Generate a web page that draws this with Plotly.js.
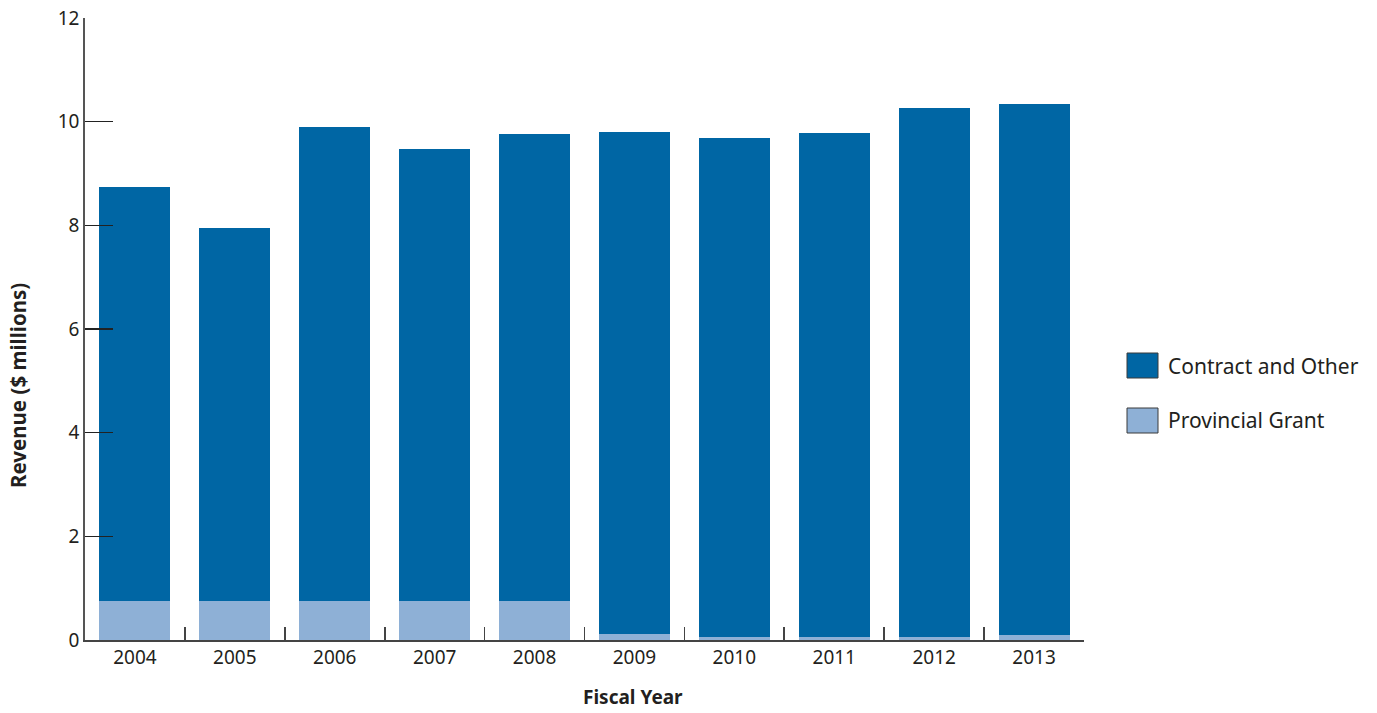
<!DOCTYPE html>
<html><head><meta charset="utf-8">
<script src="https://cdn.plot.ly/plotly-3.0.1.min.js"></script>
<style>html,body{margin:0;padding:0;background:#fff;}#chart{width:1377px;height:713px;}</style>
</head><body><div id="chart"></div>
<script>
const years = ["2004","2005","2006","2007","2008","2009","2010","2011","2012","2013"];
const provincialGrant = [0.76,0.76,0.76,0.76,0.76,0.12,0.06,0.06,0.06,0.10];
const contractOther = [7.98,7.19,9.14,8.71,9.00,9.68,9.63,9.72,10.20,10.24];
const seriesNames = ["Contract and Other","Provincial Grant"];
const seriesColors = ["#0066a4","#8eb0d6"];

const font = "'Noto Sans', 'Open Sans', sans-serif";
const traces = [
  {type:"bar", name:seriesNames[1], x:years, y:provincialGrant,
   marker:{color:seriesColors[1], line:{width:0}}},
  {type:"bar", name:seriesNames[0], x:years, y:contractOther,
   marker:{color:seriesColors[0], line:{width:0}}}
];

// manual legend (large swatches like the reference)
const legendX0 = 1127, legendW = 31, legendH = 25, legendTop = [353, 408];
const shapes = [], annotations = [];
seriesNames.forEach((n,i)=>{
  shapes.push({type:"rect", xref:"paper", yref:"paper",
    x0:(legendX0-85)/999, x1:(legendX0+legendW-85)/999,
    y0:(640-legendTop[i]-legendH)/622, y1:(640-legendTop[i])/622,
    fillcolor:seriesColors[i], line:{color:"#3a3a3a", width:1}});
  annotations.push({xref:"paper", yref:"paper", x:(legendX0+legendW+8-85)/999,
    y:(640-legendTop[i]-legendH/2)/622, xanchor:"left", yanchor:"middle",
    text:n, showarrow:false, font:{size:21, color:"#231f20"}});
});
annotations.push({xref:"paper", yref:"paper", x:(633-85)/999, y:(640-697)/622,
  xanchor:"center", yanchor:"middle", text:"<b>Fiscal Year</b>", showarrow:false,
  borderpad:0, font:{size:19, color:"#231f20"}});
annotations.push({xref:"paper", yref:"paper", x:(18-85)/999, y:(640-386)/622,
  xanchor:"center", yanchor:"middle", textangle:-90, text:"<b>Revenue ($ millions)</b>",
  showarrow:false, borderpad:0, font:{size:20.5, color:"#231f20"}});

const layout = {
  width:1377, height:713,
  margin:{l:85, r:293, t:18, b:73},
  barmode:"stack", bargap:0.29,
  paper_bgcolor:"#fff", plot_bgcolor:"#fff",
  font:{family:font, size:19, color:"#231f20"},
  showlegend:false,
  shapes:shapes, annotations:annotations,
  xaxis:{type:"category", showline:true, linecolor:"#444", linewidth:1.6,
         ticks:"inside", tickson:"boundaries", ticklen:13, tickcolor:"#444", tickwidth:1.6,
         showgrid:false, zeroline:false, tickfont:{size:19}},
  yaxis:{range:[0,12], dtick:2, showline:true, linecolor:"#555", linewidth:1.8,
         ticks:"inside", ticklen:28, tickcolor:"#222", tickwidth:1.6,
         showgrid:false, zeroline:false, tickfont:{size:19}}
};
Plotly.newPlot("chart", traces, layout, {displayModeBar:false, staticPlot:true});
</script></body></html>
